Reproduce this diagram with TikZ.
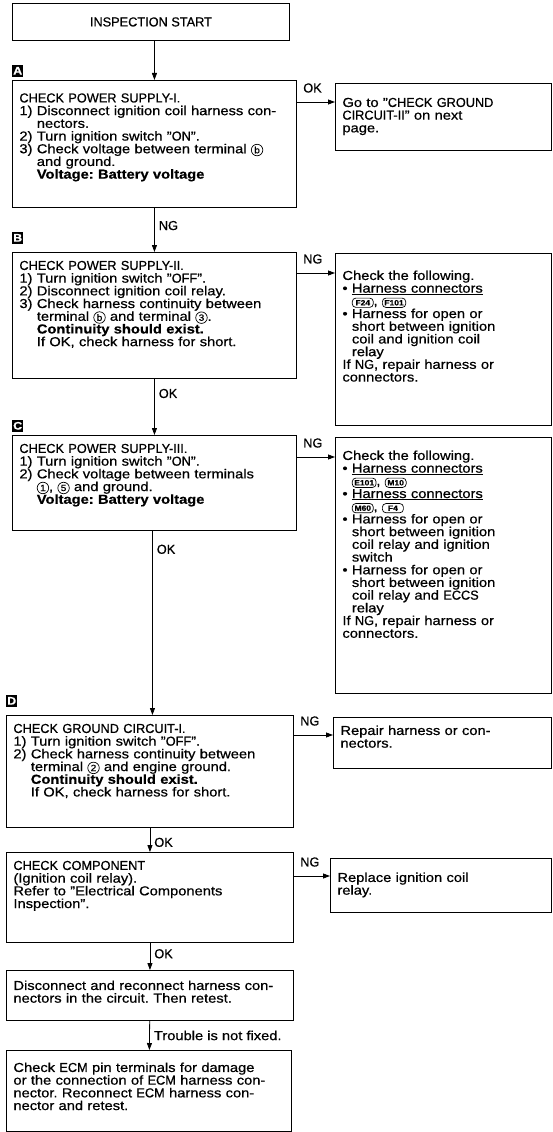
\documentclass[tikz,border=0pt]{standalone}
\usepackage{fontspec}
\setmainfont{Liberation Sans}[FakeStretch=1.13, FakeBold=0.6]
\newfontfamily\capsfont{Liberation Sans}[FakeStretch=0.98, FakeBold=0.6]
\usetikzlibrary{positioning,arrows.meta}

\newcommand{\plug}[1]{\tikz[baseline=(p.base)]\node[plugbox](p){#1};}
\newcommand{\term}[1]{\tikz[baseline=(p.base)]\node[termring](p){#1};}
\newcommand{\cp}[1]{{\capsfont #1}}

\begin{document}
\frenchspacing
\begin{tikzpicture}[x=1pt, y=-1pt,
    box/.style={draw, line width=0.9pt, anchor=north west, align=left, inner xsep=7pt, inner ysep=0pt, font=\fontsize{13}{12.7}\selectfont},
    arrow/.style={-{Triangle[length=7pt,width=5pt]}, line width=0.8pt},
    tag/.style={inner sep=1pt, font=\fontsize{13}{12.7}\selectfont\capsfont},
    badge/.style={fill=black, text=white, anchor=south west, inner sep=0pt, minimum width=11pt, minimum height=12pt, font=\fontsize{11}{11}\selectfont\bfseries},
    plugbox/.style={draw, line width=0.7pt, rounded corners=3.5pt, text width=, text height=, text depth=, anchor=base, inner xsep=2pt, inner ysep=2pt, minimum width=21pt, font=\fontsize{7.5}{7.5}\selectfont\bfseries},
    termring/.style={draw, circle, line width=0.7pt, text width=, text height=, text depth=, anchor=base, inner sep=0.5pt, minimum size=11.5pt, font=\fontsize{9}{9}\selectfont}
]
\path[use as bounding box, fill=white] (0,0) rectangle (553,1132);

% main column
\node[box, minimum width=277pt, minimum height=37pt, align=center, inner xsep=0pt] (start) at (12,3) {\cp{INSPECTION START}};

\node[box, text width=270pt, text height=22pt, text depth=105pt] (chkA) at (12,80) {\cp{CHECK POWER SUPPLY-I.}\\
1) Disconnect ignition coil harness con-\\
\phantom{1) }nectors.\\
2) Turn ignition switch "\cp{ON}".\\
3) Check voltage between terminal \term{b}\\
\phantom{3) }and ground.\\
\phantom{3) }\textbf{Voltage: Battery voltage}};
\node[badge] (tagA) at ([yshift=3pt]chkA.north west) {A};

\node[box, text width=270pt, text height=17.5pt, text depth=108.5pt] (chkB) at (12,252) {\cp{CHECK POWER SUPPLY-II.}\\
1) Turn ignition switch "\cp{OFF}".\\
2) Disconnect ignition coil relay.\\
3) Check harness continuity between\\
\phantom{3) }terminal \term{b} and terminal \term{3}.\\
\phantom{3) }\textbf{Continuity should exist.}\\
\phantom{3) }If OK, check harness for short.};
\node[badge] (tagB) at ([yshift=8pt]chkB.north west) {B};

\node[box, text width=270pt, text height=17.5pt, text depth=77.5pt] (chkC) at (12,435) {\cp{CHECK POWER SUPPLY-III.}\\
1) Turn ignition switch "\cp{ON}".\\
2) Check voltage between terminals\\
\phantom{2) }\term{1}, \term{5} and ground.\\
\phantom{2) }\textbf{Voltage: Battery voltage}};
\node[badge] (tagC) at ([yshift=3pt]chkC.north west) {C};

\node[box, text width=273pt, text height=17.5pt, text depth=94.5pt] (chkD) at (6,715) {\cp{CHECK GROUND CIRCUIT-I.}\\
1) Turn ignition switch "\cp{OFF}".\\
2) Check harness continuity between\\
\phantom{2) }terminal \term{2} and engine ground.\\
\phantom{2) }\textbf{Continuity should exist.}\\
\phantom{2) }If OK, check harness for short.};
\node[badge] (tagD) at ([yshift=8pt]chkD.north west) {D};

\node[box, text width=273pt, text height=17.5pt, text depth=72.5pt] (comp) at (6,852) {\cp{CHECK COMPONENT}\\
(Ignition coil relay).\\
Refer to "Electrical Components\\
Inspection".};

\node[box, text width=273pt, text height=19.5pt, text depth=30.5pt] (retest) at (6,970) {Disconnect and reconnect harness con-\\
nectors in the circuit. Then retest.};

\node[box, text width=271pt, text height=21.5pt, text depth=59.5pt] (ecm) at (6,1050) {Check \cp{ECM} pin terminals for damage\\
or the connection of \cp{ECM} harness con-\\
nector. Reconnect \cp{ECM} harness con-\\
nector and retest.};

% side column
\node[box, text width=202pt, text height=23.5pt, text depth=43.5pt] (goto) at (335,83) {Go to "\cp{CHECK GROUND}\\
\cp{CIRCUIT-II}" on next\\
page.};

\node[box, text width=202pt, text height=26.5pt, text depth=145.5pt] (fixB) at (335,253) {Check the following.\\
\textbullet\ \underline{Harness connectors}\\
\phantom{\textbullet\ }\plug{F24}, \plug{F101}\\
\textbullet\ Harness for open or\\
\phantom{\textbullet\ }short between ignition\\
\phantom{\textbullet\ }coil and ignition coil\\
\phantom{\textbullet\ }relay\\
If \cp{NG}, repair harness or\\
connectors.};

\node[box, text width=202pt, text height=22.5pt, text depth=233.5pt] (fixC) at (335,437) {Check the following.\\
\textbullet\ \underline{Harness connectors}\\
\phantom{\textbullet\ }\plug{E101}, \plug{M10}\\
\textbullet\ \underline{Harness connectors}\\
\phantom{\textbullet\ }\plug{M60}, \plug{F4}\\
\textbullet\ Harness for open or\\
\phantom{\textbullet\ }short between ignition\\
\phantom{\textbullet\ }coil relay and ignition\\
\phantom{\textbullet\ }switch\\
\textbullet\ Harness for open or\\
\phantom{\textbullet\ }short between ignition\\
\phantom{\textbullet\ }coil relay and \cp{ECCS}\\
\phantom{\textbullet\ }relay\\
If \cp{NG}, repair harness or\\
connectors.};

\node[box, text width=204pt, text height=17.5pt, text depth=33.5pt] (fixD) at (333,717) {Repair harness or con-\\
nectors.};

\node[box, text width=207pt, text height=23.5pt, text depth=30.5pt] (swap) at (330,858) {Replace ignition coil\\
relay.};

% flow down
\draw[arrow] (start.south -| chkA.north) -- (chkA.north);
\draw[arrow] (chkA) -- (chkB) node[tag, pos=0.4, right=3pt]{NG};
\draw[arrow] (chkB) -- (chkC) node[tag, pos=0.26, right=3pt]{OK};
\draw[arrow] ([xshift=-2pt]chkC.south) -- ([xshift=-2pt]chkC.south |- chkD.north) node[tag, pos=0.1, right=3pt]{OK};
\draw[arrow] (chkD) -- (comp) node[tag, pos=0.6, right=3pt]{OK};
\draw[arrow] (comp) -- (retest) node[tag, pos=0.4, right=3pt]{OK};
\draw[arrow] (retest) -- (ecm) node[tag, pos=0.5, right=3pt, font=\fontsize{13}{12.7}\selectfont]{Trouble is not fixed.};

% branches to the right
\draw[arrow] ([yshift=-22pt]chkA.north east) -- ([yshift=-22pt]chkA.north east -| goto.west) node[tag, pos=0, above right=8pt and 5pt]{OK};
\draw[arrow] ([yshift=-21pt]chkB.north east) -- ([yshift=-21pt]chkB.north east -| fixB.west) node[tag, pos=0, above right=8pt and 5pt]{NG};
\draw[arrow] ([yshift=-22pt]chkC.north east) -- ([yshift=-22pt]chkC.north east -| fixC.west) node[tag, pos=0, above right=8pt and 5pt]{NG};
\draw[arrow] ([yshift=-20pt]chkD.north east) -- ([yshift=-20pt]chkD.north east -| fixD.west) node[tag, pos=0, above right=8pt and 5pt]{NG};
\draw[arrow] ([yshift=-24pt]comp.north east) -- ([yshift=-24pt]comp.north east -| swap.west) node[tag, pos=0, above right=8pt and 5pt]{NG};

\end{tikzpicture}
\end{document}
